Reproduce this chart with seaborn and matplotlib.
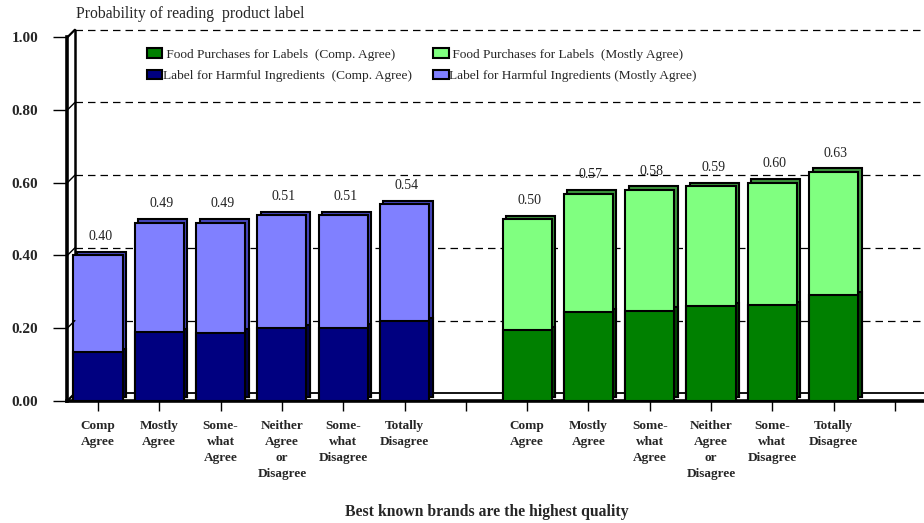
import matplotlib
matplotlib.use("Agg")
import matplotlib.pyplot as plt
import matplotlib.transforms as mtransforms
from matplotlib.patches import Patch
import pandas as pd
import seaborn as sns

# ---- data -------------------------------------------------------------
categories = ["Comp\nAgree", "Mostly\nAgree", "Some-\nwhat\nAgree",
              "Neither\nAgree\nor\nDisagree", "Some-\nwhat\nDisagree",
              "Totally\nDisagree"]
harm_total = [0.40, 0.49, 0.49, 0.51, 0.51, 0.54]
harm_comp = [0.133, 0.188, 0.187, 0.199, 0.201, 0.219]
food_total = [0.50, 0.57, 0.58, 0.59, 0.60, 0.63]
food_comp = [0.194, 0.244, 0.248, 0.260, 0.263, 0.291]
y_ticks = [0.0, 0.2, 0.4, 0.6, 0.8, 1.0]
y_tick_labels = ["0.00", "0.20", "0.40", "0.60", "0.80", "1.00"]

legend_labels = [" Food Purchases for Labels  (Comp. Agree)",
                 "Label for Harmful Ingredients  (Comp. Agree)",
                 " Food Purchases for Labels  (Mostly Agree)",
                 "Label for Harmful Ingredients (Mostly Agree)"]

# colours: front faces and the darker 3-D side/top faces
front_comp = {"harm": "#000080", "food": "#008000"}
front_mostly = {"harm": "#8080FF", "food": "#80FF80"}
side_comp = {"harm": "#00004A", "food": "#004A00"}
side_mostly = {"harm": "#4848C0", "food": "#3C963C"}

# harmful-ingredient group sits at slots 0-5, food group at 7-12
positions = list(range(6)) + list(range(7, 13))
df = pd.DataFrame({
    "pos": positions,
    "total": harm_total + food_total,
    "comp": harm_comp + food_comp,
    "group": ["harm"] * 6 + ["food"] * 6,
})

# ---- figure -----------------------------------------------------------
sns.set_style("white")
plt.rcParams["font.family"] = ["Liberation Serif", "DejaVu Serif"]

DPI = 100
fig = plt.figure(figsize=(9.24, 5.23), dpi=DPI)
ax = fig.add_axes([0.0729, 0.2337, 0.9288, 0.695])

px = 1.0 / DPI
bar_off = mtransforms.ScaledTranslation(3.5 * px, 3.5 * px, fig.dpi_scale_trans)
wall_off = mtransforms.ScaledTranslation(7.5 * px, 7.5 * px, fig.dpi_scale_trans)


def draw_bars(col, palette, zorder, shift=None):
    n0 = len(ax.patches)
    sns.barplot(data=df, x="pos", y=col, hue="group", palette=palette,
                native_scale=True, dodge=False, width=0.8, errorbar=None,
                saturation=1, edgecolor="black", linewidth=1.5,
                legend=False, ax=ax, zorder=zorder)
    if shift is not None:
        for p in ax.patches[n0:]:
            p.set_transform(ax.transData + shift)


# 3-D depth faces first, then the front faces on top
draw_bars("total", side_mostly, 2, bar_off)
draw_bars("comp", side_comp, 2.1, bar_off)
draw_bars("total", front_mostly, 3)
draw_bars("comp", front_comp, 3.1)

# back-wall gridlines
for t in y_ticks[1:]:
    ax.plot([-0.5, 13.5], [t, t], transform=ax.transData + wall_off,
            color="black", lw=0.9, ls=(0, (6, 4)), zorder=1, clip_on=False)
# back edge of the floor and of the left wall
ax.plot([-0.5, 13.5], [0, 0], transform=ax.transData + wall_off,
        color="black", lw=1.3, zorder=1, clip_on=False)
ax.plot([-0.5, -0.5], [0, 1], transform=ax.transData + wall_off,
        color="black", lw=1.8, zorder=1, clip_on=False)
for t in y_ticks:
    ax.annotate("", xy=(-0.5, t), xytext=(5.4, 5.4), textcoords="offset points",
                arrowprops=dict(arrowstyle="-", lw=1.0 if t not in (0.0, 1.0) else 1.6,
                                shrinkA=0, shrinkB=0, color="black"),
                annotation_clip=False)

# value labels over the stacks
for x, t in zip(df["pos"], df["total"]):
    ax.annotate(f"{t:.2f}", (x, t), xytext=(1.5, 13.5),
                textcoords="offset points", ha="center", va="center",
                fontsize=10, color="#222222", zorder=5)

# ---- axes styling -----------------------------------------------------
ax.set_xlim(-0.5, 13.5)
ax.set_ylim(0, 1.0)
ax.set_xticks(range(14))
ax.set_xticklabels(categories + [""] + categories + [""],
                   fontsize=9.5, fontweight="bold", linespacing=1.45)
ax.set_yticks(y_ticks)
ax.set_yticklabels(y_tick_labels, fontsize=11, fontweight="bold")
ax.tick_params(axis="x", length=7.2, width=1, pad=6.5, color="black",
               direction="out", bottom=True)
ax.tick_params(axis="y", length=10, width=1, pad=11, color="black",
               direction="out", left=True)
ax.set_xlabel("")
ax.set_ylabel("")
for s in ("top", "right"):
    ax.spines[s].set_visible(False)
ax.spines["left"].set_linewidth(2.6)
ax.spines["bottom"].set_linewidth(2.6)
ax.spines["left"].set_color("black")
ax.spines["bottom"].set_color("black")
ax.grid(False)

# legend
handles = [Patch(facecolor=front_comp["food"], edgecolor="black", lw=1.5),
           Patch(facecolor=front_comp["harm"], edgecolor="black", lw=1.5),
           Patch(facecolor=front_mostly["food"], edgecolor="black", lw=1.5),
           Patch(facecolor=front_mostly["harm"], edgecolor="black", lw=1.5)]
fig.legend(handles, legend_labels, ncol=2, loc="upper left",
           bbox_to_anchor=(0.159, 0.908), frameon=False, fontsize=9.6,
           handlelength=1.15, handleheight=0.75, handletextpad=0.05,
           columnspacing=1.6, labelspacing=0.68, borderpad=0, borderaxespad=0)

fig.text(76 / 924, 1 - 14 / 523, "Probability of reading  product label",
         ha="left", va="center", fontsize=11.35)
fig.text(0.527, 1 - 512 / 523, "Best known brands are the highest quality",
         ha="center", va="center", fontsize=11.3, fontweight="bold")

fig.savefig("out.png", dpi=DPI)
